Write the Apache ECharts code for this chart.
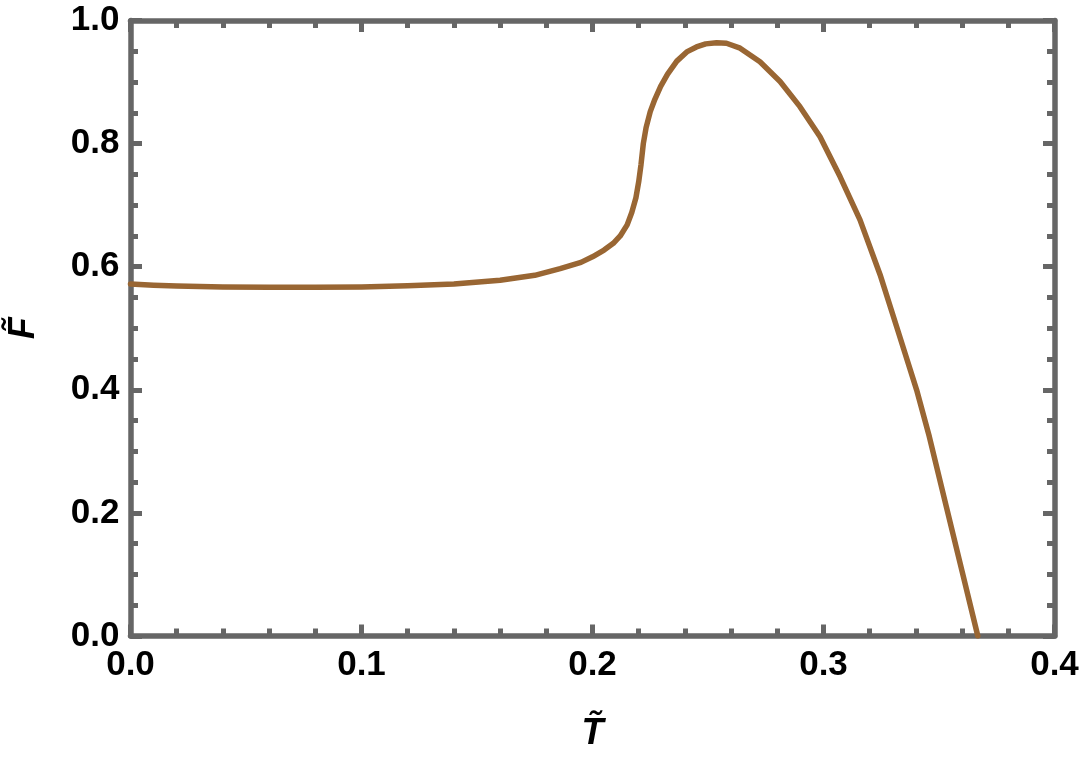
<!DOCTYPE html>
<html>
<head>
<meta charset="utf-8">
<script src="https://cdn.jsdelivr.net/npm/echarts@6/dist/echarts.min.js"></script>
<style>
html,body{margin:0;padding:0;background:#fff;}
#chart{width:1080px;height:760px;}
</style>
</head>
<body>
<div id="chart"></div>
<script>
var tValues = [0, 0.01, 0.02, 0.04, 0.06, 0.08, 0.10, 0.12, 0.14, 0.16, 0.175, 0.186, 0.195, 0.200, 0.205, 0.209, 0.212, 0.215, 0.217, 0.2188, 0.2200, 0.2210, 0.2220, 0.2232, 0.2250, 0.2270, 0.2295, 0.2325, 0.2365, 0.2408, 0.245, 0.249, 0.2537, 0.258, 0.2639, 0.2725, 0.2812, 0.2898, 0.2985, 0.3072, 0.3158, 0.3245, 0.3317, 0.3403, 0.3458, 0.3533, 0.3600, 0.3668];
var fValues = [0.572, 0.570, 0.5685, 0.567, 0.5665, 0.5665, 0.567, 0.569, 0.572, 0.578, 0.586, 0.597, 0.607, 0.616, 0.627, 0.638, 0.650, 0.668, 0.688, 0.712, 0.738, 0.766, 0.800, 0.826, 0.852, 0.872, 0.893, 0.913, 0.934, 0.949, 0.957, 0.962, 0.964, 0.963, 0.955, 0.933, 0.901, 0.860, 0.811, 0.746, 0.676, 0.587, 0.502, 0.400, 0.324, 0.208, 0.105, 0.0];
var xTickLabels = ['0.0', '0.1', '0.2', '0.3', '0.4'];
var yTickLabels = ['0.0', '0.2', '0.4', '0.6', '0.8', '1.0'];
var xName = 'T\u0303';
var yName = 'F\u0303';

var points = tValues.map(function (t, i) { return [t, fValues[i]]; });

var frameColor = '#666666';
var labelFont = { color: '#000', fontFamily: 'Liberation Sans', fontWeight: 'bold', fontSize: 35 };
var tickStyle = { color: frameColor, width: 5 };

function axisBase(extra) {
  var base = {
    axisLine: { show: true, onZero: false, lineStyle: { color: frameColor, width: 5.5 } },
    axisTick: { show: true, inside: true, length: 11.5, lineStyle: tickStyle },
    splitLine: { show: false },
    minorSplitLine: { show: false }
  };
  for (var k in extra) base[k] = extra[k];
  return base;
}

var chart = echarts.init(document.getElementById('chart'), null, { renderer: 'canvas' });
chart.setOption({
  animation: false,
  backgroundColor: '#ffffff',
  grid: { left: 130.5, right: 25.5, top: 20.5, bottom: 124, containLabel: false, outerBoundsMode: 'none' },
  xAxis: [
    axisBase({
      type: 'value', position: 'bottom', min: 0, max: 0.4, interval: 0.1,
      minorTick: { show: true, splitNumber: 5, length: 7.5, lineStyle: tickStyle },
      axisLabel: Object.assign({ margin: 12, formatter: function (v) { return xTickLabels[Math.round(v * 10)]; } }, labelFont),
      name: xName, nameLocation: 'middle', nameGap: 80,
      nameTextStyle: { color: '#000', fontFamily: 'Liberation Sans', fontWeight: 'bold', fontStyle: 'italic', fontSize: 36 }
    }),
    axisBase({
      type: 'value', position: 'top', min: 0, max: 0.4, interval: 0.1,
      minorTick: { show: true, splitNumber: 5, length: 7.5, lineStyle: tickStyle },
      axisLabel: { show: false }
    })
  ],
  yAxis: [
    axisBase({
      type: 'value', position: 'left', min: 0, max: 1, interval: 0.2,
      minorTick: { show: true, splitNumber: 4, length: 7.5, lineStyle: tickStyle },
      axisLabel: Object.assign({ margin: 11, formatter: function (v) { return yTickLabels[Math.round(v * 5)]; } }, labelFont),
      name: yName, nameLocation: 'middle', nameGap: 88, nameRotate: 90,
      nameTextStyle: { color: '#000', fontFamily: 'Liberation Sans', fontWeight: 'bold', fontStyle: 'italic', fontSize: 36 }
    }),
    axisBase({
      type: 'value', position: 'right', min: 0, max: 1, interval: 0.2,
      minorTick: { show: true, splitNumber: 4, length: 7.5, lineStyle: tickStyle },
      axisLabel: { show: false }
    })
  ],
  series: [{
    type: 'line',
    data: points,
    xAxisIndex: 0,
    yAxisIndex: 0,
    showSymbol: false,
    smooth: false,
    clip: true,
    lineStyle: { color: '#996633', width: 5.5, join: 'round', cap: 'round' },
    z: 1
  }]
});
</script>
</body>
</html>
